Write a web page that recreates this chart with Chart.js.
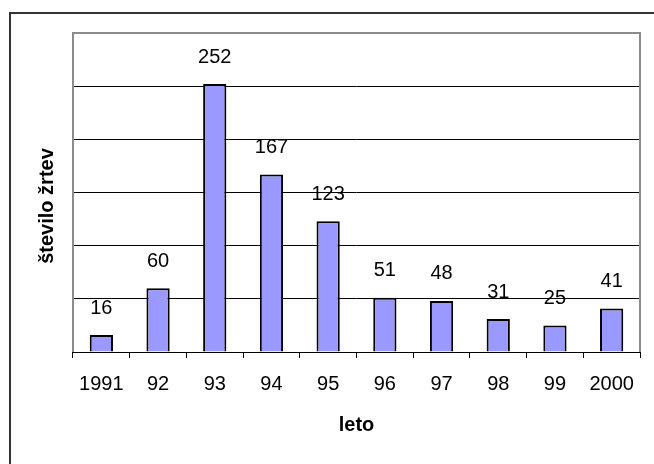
<!DOCTYPE html>
<html>
<head>
<meta charset="utf-8">
<script src="https://cdn.jsdelivr.net/npm/chart.js@4/dist/chart.umd.min.js"></script>
<style>
  html, body { margin: 0; padding: 0; background: #fff; }
  #wrap { width: 654px; height: 464px; }
</style>
</head>
<body>
<div id="wrap"><canvas id="c" width="654" height="464"></canvas></div>
<script>
const years = ['1991', '92', '93', '94', '95', '96', '97', '98', '99', '2000'];
const victims = [16, 60, 252, 167, 123, 51, 48, 31, 25, 41];
const yTicks = [0, 50, 100, 150, 200, 250, 300];
const yTitle = 'število žrtev';

const FONT = '"Liberation Sans", Arial, sans-serif';

// Outer frame (top and left edges), grey plot-area border and vertical axis title
const framePlugin = {
  id: 'frame',
  beforeDraw(chart) {
    const ctx = chart.ctx;
    ctx.save();
    ctx.fillStyle = '#fff';
    ctx.fillRect(0, 0, chart.width, chart.height);
    ctx.strokeStyle = '#333';
    ctx.lineWidth = 2;
    ctx.beginPath();
    ctx.moveTo(10, chart.height);
    ctx.lineTo(10, 13);
    ctx.lineTo(chart.width, 13);
    ctx.stroke();
    ctx.restore();
  },
  beforeDatasetsDraw(chart) {
    const { ctx, chartArea: a } = chart;
    ctx.save();
    ctx.strokeStyle = '#8c8c8c';
    ctx.lineWidth = 2;
    ctx.beginPath();
    ctx.moveTo(a.left, a.bottom);
    ctx.lineTo(a.left, a.top);
    ctx.lineTo(a.right, a.top);
    ctx.lineTo(a.right, a.bottom);
    ctx.stroke();
    ctx.strokeStyle = '#000';
    ctx.lineWidth = 1;
    ctx.beginPath();
    ctx.moveTo(a.left, a.bottom + 0.5);
    ctx.lineTo(a.right, a.bottom + 0.5);
    ctx.stroke();

    // vertical axis title, rotated
    ctx.translate(47, 206);
    ctx.rotate(-Math.PI / 2);
    ctx.fillStyle = '#000';
    ctx.font = 'bold 20px ' + FONT;
    ctx.textAlign = 'center';
    ctx.textBaseline = 'middle';
    ctx.fillText(yTitle, 0, 0);
    ctx.restore();
  }
};

// Value labels above each bar
const valueLabels = {
  id: 'valueLabels',
  afterDatasetsDraw(chart) {
    const ctx = chart.ctx;
    const meta = chart.getDatasetMeta(0);
    ctx.save();
    ctx.fillStyle = '#000';
    ctx.font = '20px ' + FONT;
    ctx.textAlign = 'center';
    ctx.textBaseline = 'middle';
    meta.data.forEach((bar, i) => {
      ctx.fillText(String(victims[i]), bar.x, bar.y - 27);
    });
    ctx.restore();
  }
};

new Chart(document.getElementById('c'), {
  type: 'bar',
  data: {
    labels: years,
    datasets: [{
      data: victims,
      backgroundColor: '#9999ff',
      borderColor: '#000',
      borderWidth: 2,
      barPercentage: 0.41,
      categoryPercentage: 1.0
    }]
  },
  options: {
    responsive: false,
    animation: false,
    devicePixelRatio: 1,
    layout: { padding: { left: 0, right: 14, top: 33, bottom: 0 } },
    plugins: {
      legend: { display: false },
      tooltip: { enabled: false }
    },
    scales: {
      x: {
        offset: true,
        grid: {
          offset: true,
          drawOnChartArea: false,
          drawTicks: true,
          tickLength: 6,
          color: '#000',
          lineWidth: 1
        },
        border: { display: false },
        ticks: {
          color: '#000',
          font: { family: FONT, size: 20 },
          padding: 14,
          maxRotation: 0,
          autoSkip: false
        },
        title: {
          display: true,
          text: 'leto',
          color: '#000',
          font: { family: FONT, size: 20, weight: 'bold' },
          padding: { top: 0, bottom: 27 }
        },
        afterFit(scale) { scale.height = 112; }
      },
      y: {
        min: 0,
        max: 300,
        afterBuildTicks(scale) { scale.ticks = yTicks.map(v => ({ value: v })); },
        grid: {
          drawTicks: false,
          color: ctx => (ctx.tick && (ctx.tick.value === 300 || ctx.tick.value === 0)) ? 'rgba(0,0,0,0)' : '#000',
          lineWidth: 1
        },
        border: { display: false },
        ticks: { display: false },
        title: { display: false },
        afterFit(scale) { scale.width = 73; }
      }
    }
  },
  plugins: [framePlugin, valueLabels]
});
</script>
</body>
</html>
